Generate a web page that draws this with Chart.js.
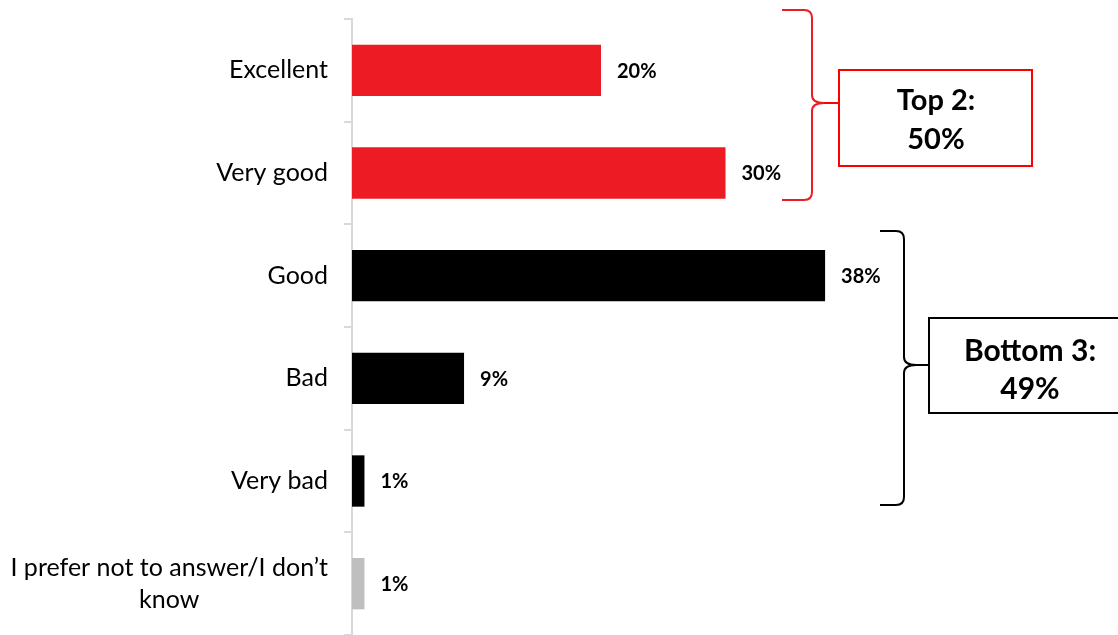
<!DOCTYPE html>
<html>
<head>
<meta charset="utf-8">
<script src="https://cdn.jsdelivr.net/npm/chart.js@4/dist/chart.umd.min.js"></script>
<style>
  body { margin: 0; background: #fff; }
  #wrap { width: 1118px; height: 635px; }
</style>
</head>
<body>
<div id="wrap"><canvas id="chart" width="1118" height="635"></canvas></div>
<script>
// data
var categorias = ['Excellent', 'Very good', 'Good', 'Bad', 'Very bad', ['I prefer not to answer/I don\u2019t', 'know']];
var valores = [20, 30, 38, 9, 1, 1];
var cores = ['#ED1C24', '#ED1C24', '#000000', '#000000', '#000000', '#BFBFBF'];
var grupos = [['Top 2:', '50%'], ['Bottom 3:', '49%']];

var FONTE = 'Lato, "Open Sans", sans-serif';

function chave(ctx, x0, xm, y0, ym, y1, ponta, r) {
    ctx.beginPath();
    ctx.moveTo(x0, y0);
    ctx.lineTo(xm - r, y0);
    ctx.quadraticCurveTo(xm, y0, xm, y0 + r);
    ctx.lineTo(xm, ym - r);
    ctx.quadraticCurveTo(xm, ym, ponta, ym);
    ctx.quadraticCurveTo(xm, ym, xm, ym + r);
    ctx.lineTo(xm, y1 - r);
    ctx.quadraticCurveTo(xm, y1, xm - r, y1);
    ctx.lineTo(x0, y1);
    ctx.stroke();
}

var extras = {
    id: 'extras',
    afterDraw: function (chart) {
        var ctx = chart.ctx;
        var y = chart.scales.y, x = chart.scales.x;
        ctx.save();

        // category labels (right aligned, wrapped lines centred)
        ctx.fillStyle = '#000';
        ctx.font = '25px ' + FONTE;
        ctx.textBaseline = 'middle';
        categorias.forEach(function (c, i) {
            var linhas = Array.isArray(c) ? c : [c];
            var cy = y.getPixelForValue(i);
            var direita = 328;
            var largura = Math.max.apply(null, linhas.map(function (l) { return ctx.measureText(l).width; }));
            var lh = 32;
            linhas.forEach(function (l, k) {
                var ly = cy + (k - (linhas.length - 1) / 2) * lh;
                if (linhas.length > 1) {
                    ctx.textAlign = 'center';
                    ctx.fillText(l, direita - largura / 2, ly);
                } else {
                    ctx.textAlign = 'right';
                    ctx.fillText(l, direita, ly);
                }
            });
        });

        // value labels
        ctx.font = 'bold 20px ' + FONTE;
        ctx.textAlign = 'left';
        valores.forEach(function (v, i) {
            ctx.fillText(v + '%', x.getPixelForValue(v) + 16, y.getPixelForValue(i) + 1);
        });

        // braces and boxes
        ctx.lineWidth = 2;
        ctx.strokeStyle = '#ED1C24';
        chave(ctx, 782, 812, 10, 103, 200, 824, 8);
        ctx.strokeStyle = '#FF0000';
        ctx.beginPath(); ctx.moveTo(824, 103); ctx.lineTo(839, 103); ctx.stroke();
        ctx.strokeRect(839, 70, 193, 96);

        ctx.strokeStyle = '#000';
        chave(ctx, 880, 904, 231, 365, 505, 916, 8);
        ctx.beginPath(); ctx.moveTo(916, 365); ctx.lineTo(929, 365); ctx.stroke();
        ctx.strokeRect(929, 318, 195, 95);

        ctx.fillStyle = '#000';
        ctx.font = 'bold 29px ' + FONTE;
        ctx.textAlign = 'center';
        ctx.fillText(grupos[0][0], 936, 101);
        ctx.fillText(grupos[0][1], 936, 140);
        ctx.font = 'bold 30px ' + FONTE;
        ctx.fillText(grupos[1][0], 1030, 351);
        ctx.fillText(grupos[1][1], 1030, 389);
        ctx.restore();
    }
};

var chartGraph = new Chart(document.getElementById('chart'), {
    type: 'bar',
    data: {
        labels: categorias,
        datasets: [{
            data: valores,
            backgroundColor: cores,
            borderWidth: 0,
            categoryPercentage: 1,
            barPercentage: 0.5
        }]
    },
    options: {
        indexAxis: 'y',
        responsive: false,
        animation: false,
        layout: { padding: { top: 19, right: 19, bottom: 0, left: 0 } },
        plugins: { legend: { display: false }, tooltip: { enabled: false } },
        scales: {
            x: { display: false, min: 0, max: 60 },
            y: {
                ticks: { display: false },
                grid: { offset: true, drawOnChartArea: false, drawTicks: true, tickLength: 8, color: '#D9D9D9', lineWidth: 2 },
                border: { color: '#D9D9D9', width: 2 },
                afterFit: function (s) { s.width = 352; }
            }
        }
    },
    plugins: [extras]
});
</script>
</body>
</html>
